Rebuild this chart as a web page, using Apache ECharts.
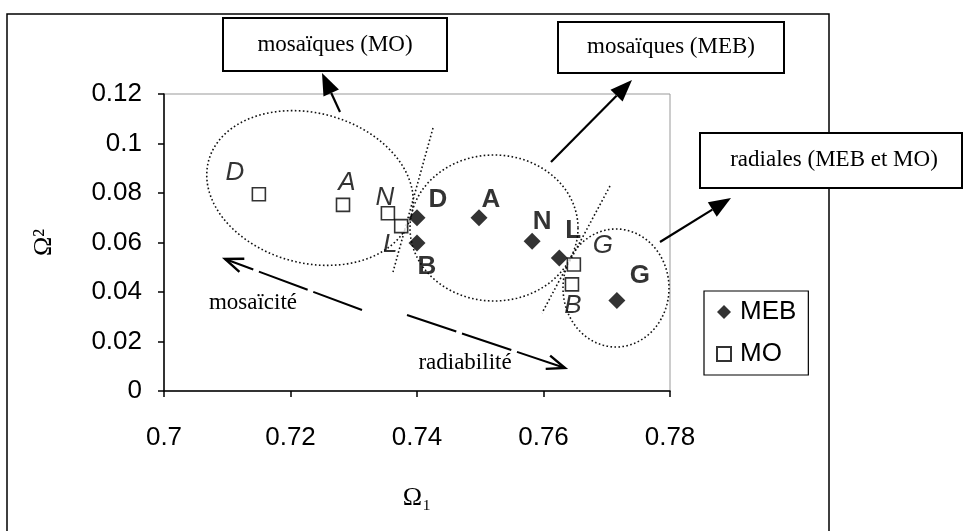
<!DOCTYPE html>
<html><head><meta charset="utf-8">
<script src="https://cdn.jsdelivr.net/npm/echarts@6/dist/echarts.min.js"></script>
<style>html,body{margin:0;padding:0;background:#fff}#c{width:964px;height:531px}</style>
</head><body><div id="c"></div>
<script>
// ---- data ----
const xTickValues = [0.7, 0.72, 0.74, 0.76, 0.78];
const yTickValues = [0, 0.02, 0.04, 0.06, 0.08, 0.1, 0.12];
const mebNames = ['D', 'B', 'A', 'N', 'L', 'G'];
const mebX = [0.740, 0.740, 0.7498, 0.7582, 0.7625, 0.7716];
const mebY = [0.0700, 0.0598, 0.0700, 0.0605, 0.0537, 0.0366];
const moNames = ['D', 'A', 'N', 'L', 'G', 'B'];
const moX = [0.7150, 0.7283, 0.7354, 0.7375, 0.7648, 0.7645];
const moY = [0.0795, 0.0752, 0.0718, 0.0666, 0.0511, 0.0431];

// label placement (pixels, relative to marker)
const mebLabelOffsets = [[21, -18], [10, 24], [12, -18], [10, -19], [14, -27], [23, -25]];
const moLabelOffsets = [[-24, -21], [4, -22], [-3, -16], [-11, 19], [29, -19], [1, 21]];

const chart = echarts.init(document.getElementById('c'), null, {renderer: 'canvas'});
const SANS = 'Arial, "Liberation Sans", sans-serif';
const SERIF = '"Times New Roman", "Liberation Serif", serif';

function ellipsePts(cx, cy, a, b, deg) {
  const t = deg * Math.PI / 180, pts = [];
  for (let i = 0; i < 180; i++) {
    const u = i / 180 * 2 * Math.PI;
    const x = a * Math.cos(u), y = b * Math.sin(u);
    pts.push([cx + x * Math.cos(t) - y * Math.sin(t), cy + x * Math.sin(t) + y * Math.cos(t)]);
  }
  return pts;
}
const dotted = {fill: 'none', stroke: '#111', lineWidth: 1.6, lineDash: [1.6, 2.4]};

function solidArrow(x1, y1, x2, y2) {
  const L = 22, W = 17;
  const dx = x2 - x1, dy = y2 - y1, d = Math.hypot(dx, dy), ux = dx / d, uy = dy / d;
  const bx = x2 - ux * L, by = y2 - uy * L;
  return [
    {type: 'line', shape: {x1, y1, x2: bx, y2: by}, style: {stroke: '#000', lineWidth: 2.2}},
    {type: 'polygon', shape: {points: [[x2, y2], [bx - uy * W / 2, by + ux * W / 2], [bx + uy * W / 2, by - ux * W / 2]]}, style: {fill: '#000'}}
  ];
}
function dashArrow(x1, y1, x2, y2) {
  const L = 18, W = 7;
  const dx = x2 - x1, dy = y2 - y1, d = Math.hypot(dx, dy), ux = dx / d, uy = dy / d;
  const bx = x2 - ux * L, by = y2 - uy * L;
  return [
    {type: 'line', shape: {x1, y1, x2, y2}, style: {stroke: '#000', lineWidth: 2, lineDash: [52, 6]}},
    {type: 'polyline', shape: {points: [[bx - uy * W, by + ux * W], [x2, y2], [bx + uy * W, by - ux * W]]}, style: {stroke: '#000', lineWidth: 2.4, fill: 'none'}}
  ];
}
function box(x, y, w, h, text, tx, ty) {
  return [
    {type: 'rect', shape: {x, y, width: w, height: h}, style: {fill: '#fff', stroke: '#000', lineWidth: 2}, z: 20},
    {type: 'text', x: tx, y: ty, style: {text, font: '23px ' + SERIF, fill: '#000', align: 'center', verticalAlign: 'middle'}, z: 21}
  ];
}

const graphics = [].concat(
  [{type: 'rect', shape: {x: 7, y: 14, width: 822, height: 530}, style: {fill: 'none', stroke: '#000', lineWidth: 1.5}, z: 1}],
  [{type: 'polygon', shape: {points: ellipsePts(310, 188, 105, 75, 15)}, style: dotted, z: 5}],
  [{type: 'polygon', shape: {points: ellipsePts(494, 228, 84, 73, 0)}, style: dotted, z: 5}],
  [{type: 'polygon', shape: {points: ellipsePts(616, 288, 53, 59, 0)}, style: dotted, z: 5}],
  [{type: 'line', shape: {x1: 433, y1: 128, x2: 393, y2: 272}, style: dotted, z: 5}],
  [{type: 'line', shape: {x1: 610, y1: 186, x2: 542, y2: 313}, style: dotted, z: 5}],
  solidArrow(340, 112, 322, 73),
  solidArrow(551, 162, 632, 80),
  solidArrow(660, 242, 731, 198),
  dashArrow(362, 310, 225, 259),
  dashArrow(407, 315, 565, 368),
  [{type: 'text', x: 253, y: 303, style: {text: 'mosaïcité', font: '23px ' + SERIF, fill: '#000', align: 'center', verticalAlign: 'middle'}, z: 6}],
  [{type: 'text', x: 465, y: 363, style: {text: 'radiabilité', font: '23px ' + SERIF, fill: '#000', align: 'center', verticalAlign: 'middle'}, z: 6}],
  box(223, 18, 224, 53, 'mosaïques (MO)', 335, 45),
  box(558, 22, 226, 51, 'mosaïques (MEB)', 671, 47),
  box(700, 133, 262, 55, 'radiales (MEB et MO)', 834, 160)
);

const option = {
  backgroundColor: '#fff',
  animation: false,
  grid: {left: 164, right: 294, top: 94, bottom: 140, show: true, borderColor: '#999', borderWidth: 1},
  xAxis: {
    type: 'value', min: xTickValues[0], max: xTickValues[xTickValues.length - 1], interval: 0.02,
    axisLine: {show: true, onZero: false, lineStyle: {color: '#000', width: 1.5}},
    axisTick: {show: true, inside: false, length: 6, lineStyle: {color: '#000', width: 1.5}},
    splitLine: {show: false},
    axisLabel: {fontSize: 26, fontFamily: SANS, color: '#000', margin: 34, formatter: v => String(+v.toFixed(2))},
    name: 'Ω₁', nameLocation: 'middle', nameGap: 94,
    nameTextStyle: {fontSize: 26, fontFamily: SERIF, color: '#000'}
  },
  yAxis: {
    type: 'value', min: yTickValues[0], max: yTickValues[yTickValues.length - 1], interval: 0.02,
    axisLine: {show: true, lineStyle: {color: '#000', width: 1.5}},
    axisTick: {show: true, inside: false, length: 6, lineStyle: {color: '#000', width: 1.5}},
    splitLine: {show: false},
    axisLabel: {fontSize: 26, fontFamily: SANS, color: '#000', margin: 22, formatter: v => String(+v.toFixed(2))},
    name: 'Ω²', nameLocation: 'middle', nameGap: 107, nameRotate: 90,
    nameTextStyle: {fontSize: 26, fontFamily: SERIF, color: '#000'}
  },
  legend: {
    left: 704, top: 291, orient: 'vertical',
    data: ['MEB', 'MO'],
    backgroundColor: '#fff', borderColor: '#000', borderWidth: 1.2,
    padding: [8, 12, 8, 12], itemGap: 16, itemWidth: 14, itemHeight: 14,
    textStyle: {fontSize: 26, fontFamily: SANS, color: '#000', padding: [0, 0, 0, 4]}
  },
  series: [
    {
      name: 'MEB', type: 'scatter', symbol: 'diamond', symbolSize: 17, z: 10,
      itemStyle: {color: '#000'},
      label: {show: true, position: 'inside', formatter: p => p.name, fontSize: 26, fontWeight: 'bold', fontFamily: SANS, color: '#000'},
      data: mebX.map((x, i) => ({value: [x, mebY[i]], name: mebNames[i], label: {offset: mebLabelOffsets[i]}}))
    },
    {
      name: 'MO', type: 'scatter', symbol: 'rect', symbolSize: 13, z: 9,
      itemStyle: {color: '#fff', borderColor: '#000', borderWidth: 1.6},
      label: {show: true, position: 'inside', formatter: p => p.name, fontSize: 26, fontStyle: 'italic', fontFamily: SANS, color: '#000'},
      data: moX.map((x, i) => ({value: [x, moY[i]], name: moNames[i], label: {offset: moLabelOffsets[i]}}))
    }
  ],
  graphic: {elements: graphics}
};
chart.setOption(option);
</script></body></html>
